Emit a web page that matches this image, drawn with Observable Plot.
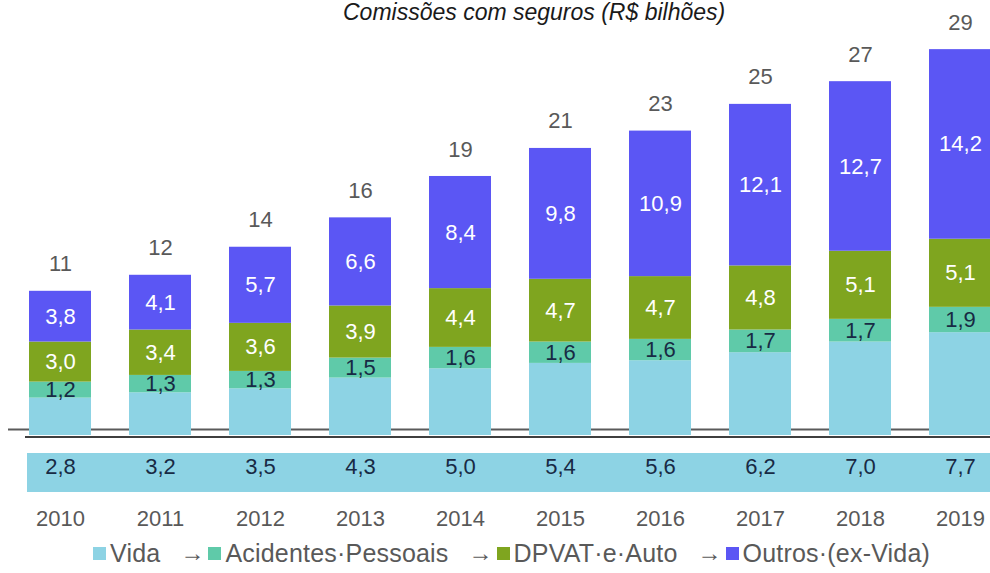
<!DOCTYPE html>
<html>
<head>
<meta charset="utf-8">
<script src="https://cdn.jsdelivr.net/npm/d3@7"></script>
<script src="https://cdn.jsdelivr.net/npm/@observablehq/plot@0.6"></script>
<style>
  body { margin: 0; background: #fff; font-family: "Liberation Sans", Arial, sans-serif; }
  #wrap { position: relative; width: 990px; height: 573px; overflow: hidden; }
  #chart { position: absolute; left: 0; top: 0; }
  #title { position: absolute; left: 343px; top: 0px; font-style: italic; font-size: 23px; line-height: 24px; color: #1a1a1a; white-space: nowrap; }
  #legend { position: absolute; left: 93px; top: 538px; display: flex; align-items: center; font-size: 25px; letter-spacing: 0.2px; color: #595959; white-space: nowrap; line-height: 30px; }
  #legend .item { display: flex; align-items: center; }
  #legend .sw { width: 13px; height: 13px; margin-right: 4px; }
  #legend .arr { margin: 0 4px 0 20px; font-size: 24px; letter-spacing: 0; }
</style>
</head>
<body>
<div id="wrap">
  <div id="chart"></div>
  <div id="title">Comissões com seguros (R$ bilhões)</div>
  <div id="legend"></div>
</div>
<script>
const years = [2010, 2011, 2012, 2013, 2014, 2015, 2016, 2017, 2018, 2019];
const vida = [2.8, 3.2, 3.5, 4.3, 5.0, 5.4, 5.6, 6.2, 7.0, 7.7];
const acidentes = [1.2, 1.3, 1.3, 1.5, 1.6, 1.6, 1.6, 1.7, 1.7, 1.9];
const dpvat = [3.0, 3.4, 3.6, 3.9, 4.4, 4.7, 4.7, 4.8, 5.1, 5.1];
const outros = [3.8, 4.1, 5.7, 6.6, 8.4, 9.8, 10.9, 12.1, 12.7, 14.2];
const totals = [11, 12, 14, 16, 19, 21, 23, 25, 27, 29];

const seriesNames = ["Vida", "Acidentes Pessoais", "DPVAT e Auto", "Outros (ex-Vida)"];
const legendLabels = ["Vida", "Acidentes·Pessoais", "DPVAT·e·Auto", "Outros·(ex-Vida)"];
const seriesColors = ["#8dd3e4", "#5fcaa9", "#7fa51f", "#5b56f4"];
const seriesValues = [vida, acidentes, dpvat, outros];

const rows = [];
years.forEach((year, i) => {
  seriesNames.forEach((s, k) => rows.push({year, series: s, value: seriesValues[k][i]}));
});
const totalRows = years.map((year, i) => ({
  year,
  sum: vida[i] + acidentes[i] + dpvat[i] + outros[i],
  label: String(totals[i])
}));
const vidaRows = years.map((year, i) => ({year, value: vida[i]}));

const fmt = v => v.toFixed(1).replace(".", ",");
const font = "Liberation Sans, Arial, sans-serif";

const chart = Plot.plot({
  width: 990,
  height: 540,
  marginTop: 0,
  marginLeft: 27,
  marginRight: 0,
  marginBottom: 105,
  style: {fontFamily: font, background: "transparent", overflow: "visible"},
  x: {domain: years, range: [10, 1010], paddingInner: 0.38, paddingOuter: 0.19},
  y: {domain: [0, 32.58], axis: null},
  color: {domain: seriesNames, range: seriesColors},
  marks: [
    Plot.ruleY([0], {dy: -6, stroke: "#5a5a5a", strokeWidth: 2, insetLeft: -19}),
    Plot.barY(rows, {x: "year", y: "value", z: "series", fill: "series"}),
    Plot.ruleY([0], {dy: 1.5, stroke: "#3f3f3f", strokeWidth: 2, insetLeft: -2}),
    Plot.ruleY([0], {dy: 37, stroke: seriesColors[0], strokeWidth: 39}),
    Plot.text(rows, Plot.stackY({
      x: "year", y: "value", z: "series",
      text: d => (d.series === "DPVAT e Auto" || d.series === "Outros (ex-Vida)") ? fmt(d.value) : null,
      fill: "white", fontSize: 22
    })),
    Plot.text(rows, Plot.stackY({
      x: "year", y: "value", z: "series",
      text: d => d.series === "Acidentes Pessoais" ? fmt(d.value) : null,
      fill: "#182a44", fontSize: 22
    })),
    Plot.text(totalRows, {x: "year", y: "sum", text: "label", dy: -27, fill: "#595959", fontSize: 22}),
    Plot.text(vidaRows, {x: "year", frameAnchor: "bottom", dy: 38, text: d => fmt(d.value), fill: "#182a44", fontSize: 22}),
    Plot.axisX({tickSize: 0, tickPadding: 75, fontSize: 22, color: "#595959", label: null, tickFormat: d => String(d)})
  ]
});
document.getElementById("chart").appendChild(chart);

const legend = document.getElementById("legend");
legendLabels.forEach((name, k) => {
  const item = document.createElement("div");
  item.className = "item";
  if (k > 0) {
    const arr = document.createElement("span");
    arr.className = "arr";
    arr.textContent = "→";
    item.appendChild(arr);
  }
  const sw = document.createElement("span");
  sw.className = "sw";
  sw.style.background = seriesColors[k];
  item.appendChild(sw);
  const label = document.createElement("span");
  label.textContent = name;
  item.appendChild(label);
  legend.appendChild(item);
});
</script>
</body>
</html>
